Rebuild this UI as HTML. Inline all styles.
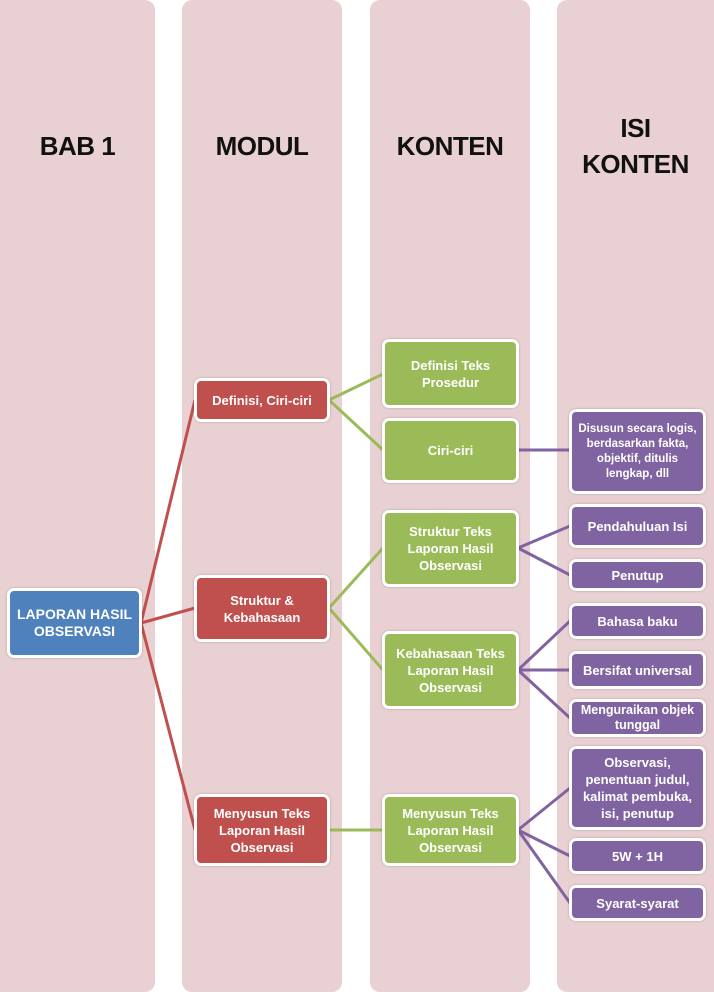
<!DOCTYPE html>
<html><head><meta charset="utf-8"><style>
body{margin:0;width:714px;height:996px;background:#fff;position:relative;overflow:hidden;font-family:"Liberation Sans",sans-serif;}
.col{position:absolute;top:0;height:992px;background:#e9d1d3;border-radius:10px;}
.h{position:absolute;font-weight:bold;font-size:26px;color:#111;text-align:center;line-height:36px;letter-spacing:-0.5px}
.n{position:absolute;box-sizing:border-box;border:3px solid #fff;border-radius:7px;color:#fff;font-weight:bold;display:flex;align-items:center;justify-content:center;text-align:center;font-size:13px;line-height:17px;box-shadow:0 0 2px rgba(0,0,0,.25)}
.b{background:#4f81bd;font-size:14px}.r{background:#c0504d}.g{background:#9bbb59}.p{background:#8064a2;font-size:12.5px;line-height:15px}
svg{position:absolute;left:0;top:0}
</style></head><body>
<div class="col" style="left:-10px;width:165px"></div>
<div class="col" style="left:182px;width:160px"></div>
<div class="col" style="left:370px;width:160px"></div>
<div class="col" style="left:557px;width:167px"></div>
<div class="h" style="left:0;width:155px;top:128px">BAB 1</div>
<div class="h" style="left:182px;width:160px;top:128px">MODUL</div>
<div class="h" style="left:370px;width:160px;top:128px">KONTEN</div>
<div class="h" style="left:557px;width:157px;top:110px">ISI<br>KONTEN</div>
<svg width="714" height="996">
<g stroke="#c0504d" stroke-width="3" fill="none"><path d="M141 623L195 400M141 623L195 608M141 623L195 830"/></g>
<g stroke="#9bbb59" stroke-width="3" fill="none"><path d="M329 400L383 374M329 400L383 450M329 608L383 548M329 608L383 670M329 830L383 830"/></g>
<g stroke="#8064a2" stroke-width="3" fill="none"><path d="M518 450L570 450M518 548L570 526M518 548L570 575M518 670L570 621M518 670L570 670M518 670L570 718M518 830L570 788M518 830L570 856M518 830L570 903"/></g>
</svg>
<div class="n b" style="left:7px;top:588px;width:135px;height:70px">LAPORAN HASIL<br>OBSERVASI</div>
<div class="n r" style="left:194px;top:378px;width:136px;height:44px">Definisi, Ciri-ciri</div>
<div class="n r" style="left:194px;top:575px;width:136px;height:67px">Struktur &amp;<br>Kebahasaan</div>
<div class="n r" style="left:194px;top:794px;width:136px;height:72px">Menyusun Teks<br>Laporan Hasil<br>Observasi</div>
<div class="n g" style="left:382px;top:339px;width:137px;height:69px">Definisi Teks<br>Prosedur</div>
<div class="n g" style="left:382px;top:418px;width:137px;height:65px">Ciri-ciri</div>
<div class="n g" style="left:382px;top:510px;width:137px;height:77px">Struktur Teks<br>Laporan Hasil<br>Observasi</div>
<div class="n g" style="left:382px;top:631px;width:137px;height:78px">Kebahasaan Teks<br>Laporan Hasil<br>Observasi</div>
<div class="n g" style="left:382px;top:794px;width:137px;height:72px">Menyusun Teks<br>Laporan Hasil<br>Observasi</div>
<div class="n p" style="left:569px;top:409px;width:137px;height:85px;font-size:11.5px">Disusun secara logis,<br>berdasarkan fakta,<br>objektif, ditulis<br>lengkap, dll</div>
<div class="n p" style="left:569px;top:504px;width:137px;height:44px;font-size:13px">Pendahuluan Isi</div>
<div class="n p" style="left:569px;top:559px;width:137px;height:32px;font-size:13px">Penutup</div>
<div class="n p" style="left:569px;top:603px;width:137px;height:36px;font-size:13px">Bahasa baku</div>
<div class="n p" style="left:569px;top:651px;width:137px;height:38px;font-size:13px">Bersifat universal</div>
<div class="n p" style="left:569px;top:699px;width:137px;height:38px;font-size:12.5px">Menguraikan objek<br>tunggal</div>
<div class="n p" style="left:569px;top:746px;width:137px;height:84px;font-size:13px;line-height:17px">Observasi,<br>penentuan judul,<br>kalimat pembuka,<br>isi, penutup</div>
<div class="n p" style="left:569px;top:838px;width:137px;height:36px;font-size:13px">5W + 1H</div>
<div class="n p" style="left:569px;top:885px;width:137px;height:36px;font-size:13px">Syarat-syarat</div>
</body></html>
